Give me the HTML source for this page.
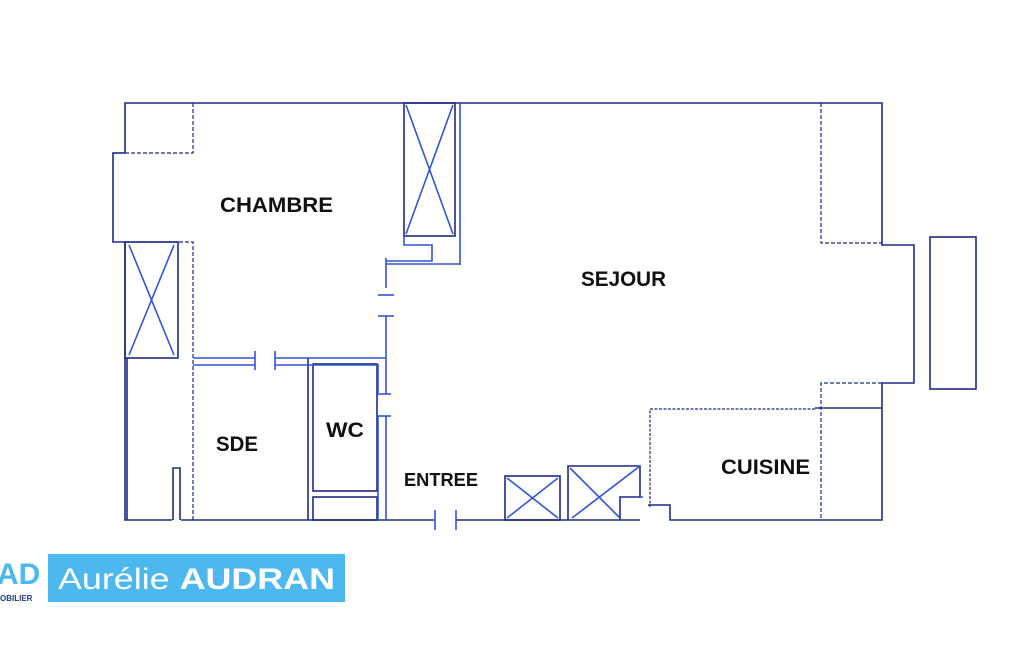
<!DOCTYPE html>
<html><head><meta charset="utf-8"><style>
html,body{margin:0;padding:0;background:#fff;}
body{width:1025px;height:650px;overflow:hidden;position:relative;font-family:"Liberation Sans",sans-serif;}
</style></head><body>
<svg width="1025" height="650" viewBox="0 0 1025 650" xmlns="http://www.w3.org/2000/svg" style="position:absolute;left:0;top:0">
<g fill="none" stroke="#1f2a80" stroke-width="1.6">
<polyline points="125,153 125,103 882,103 882,245 914,245 914,383 882,383 882,520 670,520 670,505 648,505"/>
<polyline points="125,153 113,153 113,242 125,242 125,520 172,520"/>
<line x1="127" y1="358" x2="127" y2="520"/>
<line x1="181" y1="520" x2="383" y2="520"/>
<line x1="383" y1="520" x2="435" y2="520"/>
<line x1="456" y1="520" x2="640" y2="520"/>
<rect x="930" y="237" width="46" height="152"/>
<line x1="815" y1="408" x2="882" y2="408"/>
<rect x="125" y="242" width="53" height="116"/>
<rect x="404" y="103" width="51" height="133"/>
<rect x="313" y="364" width="64" height="127"/>
<rect x="313" y="497" width="64" height="23"/>
<line x1="308" y1="358" x2="308" y2="520"/>
<rect x="505" y="476" width="55" height="44"/>
<polyline points="568,520 568,466 640,466 640,497 620,497 620,520"/>
<polyline points="173,520 173,468 180,468 180,520"/>
</g>
<g fill="none" stroke="#1f2a80" stroke-width="1.2" stroke-dasharray="4,2">
<polyline points="193,103 193,153 113,153"/>
<polyline points="125,242 193,242 193,520"/>
<polyline points="821,103 821,243 882,243"/>
<polyline points="882,383 821,383 821,520"/>
<polyline points="815,409 650,409 650,507" stroke-dasharray="3,1.5"/>
</g>
<g fill="none" stroke="#3355cc" stroke-width="1.6">
<line x1="129" y1="245" x2="174" y2="355"/><line x1="174" y1="245" x2="129" y2="355"/>
<line x1="406" y1="105" x2="453" y2="234"/><line x1="453" y1="105" x2="406" y2="234"/>
<line x1="460" y1="103" x2="460" y2="265"/>
<polyline points="404,236 404,245 432,245 432,261 386,261"/>
<line x1="386" y1="264" x2="460" y2="264"/>
<line x1="386" y1="258" x2="386" y2="288"/>
<line x1="378" y1="295" x2="394" y2="295"/>
<line x1="378" y1="316" x2="394" y2="316"/>
<line x1="386" y1="316" x2="386" y2="394"/>
<line x1="376" y1="394" x2="391" y2="394"/>
<line x1="376" y1="416" x2="391" y2="416"/>
<line x1="386" y1="416" x2="386" y2="520"/>
<line x1="378" y1="364" x2="378" y2="394"/>
<line x1="378" y1="416" x2="378" y2="520"/>
<line x1="193" y1="358" x2="255" y2="358"/>
<line x1="193" y1="365" x2="255" y2="365"/>
<line x1="255" y1="351" x2="255" y2="370"/>
<line x1="275" y1="351" x2="275" y2="370"/>
<line x1="275" y1="358" x2="386" y2="358"/>
<line x1="275" y1="365" x2="378" y2="365"/>
<line x1="435" y1="510" x2="435" y2="530"/>
<line x1="456" y1="510" x2="456" y2="530"/>
<line x1="507" y1="478" x2="558" y2="518"/><line x1="558" y1="478" x2="507" y2="518"/>
<line x1="570" y1="468" x2="620" y2="518"/><line x1="640" y1="466" x2="572" y2="518"/>
<line x1="640" y1="497" x2="643" y2="497"/>
</g>
<g font-family="Liberation Sans, sans-serif" font-weight="bold" fill="#111" lengthAdjust="spacingAndGlyphs">
<text x="220" y="212" font-size="21" textLength="113" lengthAdjust="spacingAndGlyphs">CHAMBRE</text>
<text x="581" y="286" font-size="21" textLength="85" lengthAdjust="spacingAndGlyphs">SEJOUR</text>
<text x="216" y="451" font-size="21" textLength="42" lengthAdjust="spacingAndGlyphs">SDE</text>
<text x="326" y="437" font-size="21" textLength="38" lengthAdjust="spacingAndGlyphs">WC</text>
<text x="404" y="486" font-size="18" textLength="74" lengthAdjust="spacingAndGlyphs">ENTREE</text>
<text x="721" y="474" font-size="21" textLength="89" lengthAdjust="spacingAndGlyphs">CUISINE</text>
</g>
<rect x="48" y="554" width="297" height="48" fill="#4db8ee"/>
<text x="58" y="589" font-size="30" fill="#fff" font-family="Liberation Sans, sans-serif" textLength="277" lengthAdjust="spacingAndGlyphs">Aurélie <tspan font-weight="bold">AUDRAN</tspan></text>
<text x="-3" y="584" font-size="30" fill="#4db8ee" font-weight="bold" font-family="Liberation Sans, sans-serif">AD</text>
<text x="0" y="601" font-size="8" fill="#1f3a80" font-weight="bold" font-family="Liberation Sans, sans-serif">OBILIER</text>
</svg>
</body></html>
